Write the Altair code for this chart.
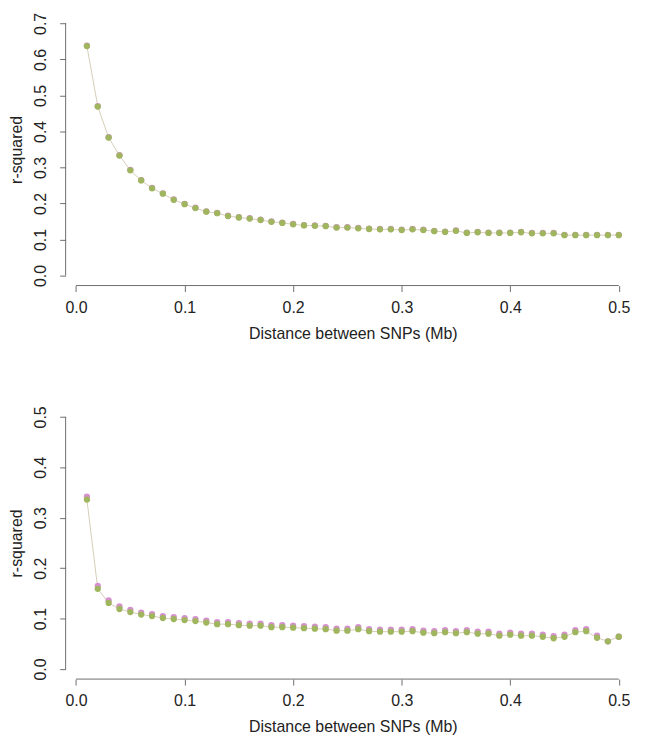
import altair as alt
import pandas as pd

# ---------------- data ----------------
x_mb = [0.01, 0.02, 0.03, 0.04, 0.05, 0.06, 0.07, 0.08, 0.09, 0.10,
        0.11, 0.12, 0.13, 0.14, 0.15, 0.16, 0.17, 0.18, 0.19, 0.20,
        0.21, 0.22, 0.23, 0.24, 0.25, 0.26, 0.27, 0.28, 0.29, 0.30,
        0.31, 0.32, 0.33, 0.34, 0.35, 0.36, 0.37, 0.38, 0.39, 0.40,
        0.41, 0.42, 0.43, 0.44, 0.45, 0.46, 0.47, 0.48, 0.49, 0.50]

top_green = [0.637, 0.469, 0.383, 0.333, 0.292, 0.264, 0.242, 0.227, 0.210, 0.198,
             0.187, 0.177, 0.173, 0.165, 0.161, 0.158, 0.154, 0.149, 0.146, 0.142,
             0.139, 0.138, 0.137, 0.133, 0.133, 0.131, 0.129, 0.128, 0.128, 0.126,
             0.128, 0.126, 0.123, 0.121, 0.124, 0.118, 0.120, 0.118, 0.118, 0.118,
             0.120, 0.117, 0.117, 0.117, 0.112, 0.112, 0.112, 0.112, 0.112, 0.112]
top_pink = [0.638, 0.470, 0.384, 0.334, 0.293, 0.265, 0.243, 0.228, 0.211, 0.199,
            0.188, 0.178, 0.174, 0.166, 0.162, 0.159, 0.155, 0.150, 0.147, 0.143,
            0.140, 0.139, 0.138, 0.134, 0.134, 0.132, 0.130, 0.129, 0.129, 0.127,
            0.129, 0.127, 0.124, 0.122, 0.125, 0.119, 0.121, 0.119, 0.119, 0.119,
            0.121, 0.118, 0.118, 0.118, 0.113, 0.113, 0.113, 0.113, 0.113, 0.113]

bot_green = [0.336, 0.159, 0.131, 0.119, 0.113, 0.108, 0.105, 0.101, 0.099, 0.097,
             0.095, 0.092, 0.089, 0.089, 0.087, 0.086, 0.086, 0.083, 0.083, 0.082,
             0.081, 0.080, 0.079, 0.076, 0.076, 0.079, 0.075, 0.074, 0.074, 0.074,
             0.075, 0.072, 0.071, 0.073, 0.071, 0.073, 0.070, 0.070, 0.066, 0.068,
             0.066, 0.066, 0.064, 0.061, 0.064, 0.073, 0.075, 0.062, 0.055, 0.064]
bot_pink = [0.342, 0.165, 0.136, 0.124, 0.117, 0.112, 0.109, 0.105, 0.103, 0.101,
            0.099, 0.096, 0.093, 0.093, 0.091, 0.090, 0.090, 0.087, 0.087, 0.086,
            0.085, 0.084, 0.083, 0.080, 0.080, 0.083, 0.079, 0.078, 0.078, 0.078,
            0.079, 0.076, 0.075, 0.077, 0.075, 0.077, 0.074, 0.074, 0.070, 0.072,
            0.070, 0.070, 0.068, 0.065, 0.068, 0.077, 0.079, 0.066, 0.055, 0.064]

x_ticks = [0.0, 0.1, 0.2, 0.3, 0.4, 0.5]
top_y_ticks = [0.0, 0.1, 0.2, 0.3, 0.4, 0.5, 0.6, 0.7]
bot_y_ticks = [0.0, 0.1, 0.2, 0.3, 0.4, 0.5]

x_title = "Distance between SNPs (Mb)"
y_title = "r-squared"

# ---------------- style ----------------
PINK = "#d690cf"
GREEN = "#9fb65e"
LINE = "#c4b999"
AX = "#6e6e6e"
TXT = "#222222"
FONT = "Liberation Sans"
W, H = 578, 274


def r_domain(lo, hi):
    pad = (hi - lo) * 0.04
    return [lo - pad, hi + pad]


def panel(green, pink, y_ticks):
    xs = alt.Scale(domain=r_domain(x_mb[0], x_mb[-1]), nice=False, zero=False)
    ys = alt.Scale(domain=r_domain(y_ticks[0], y_ticks[-1]), nice=False, zero=False)
    X = alt.X("x:Q", scale=xs, title=x_title,
              axis=alt.Axis(values=x_ticks, format=".1f", labelPadding=8,
                            titlePadding=10, grid=False, domain=False))
    Y = alt.Y("y:Q", scale=ys, title=y_title,
              axis=alt.Axis(values=y_ticks, format=".1f", labelAngle=-90,
                            labelAlign="center", labelBaseline="bottom",
                            labelPadding=11, titlePadding=8, grid=False, domain=False))

    pts_df = pd.DataFrame({
        "x": x_mb + x_mb,
        "y": pink + green,
        "series": ["pink"] * len(x_mb) + ["green"] * len(x_mb),
    })
    line_df = pd.DataFrame({"x": x_mb, "y": green})
    xrule_df = pd.DataFrame({"x": [x_ticks[0]], "x_end": [x_ticks[-1]]})
    yrule_df = pd.DataFrame({"y": [y_ticks[0]], "y_end": [y_ticks[-1]]})

    line = alt.Chart(line_df).mark_line(color=LINE, strokeWidth=0.7).encode(x=X, y=Y)
    pts = alt.Chart(pts_df).mark_circle(size=40, opacity=1).encode(
        x=X, y=Y,
        color=alt.Color("series:N",
                        scale=alt.Scale(domain=["pink", "green"], range=[PINK, GREEN]),
                        legend=None),
    )
    xr = alt.Chart(xrule_df).mark_rule(color=AX, strokeWidth=1).encode(
        x=X, x2="x_end:Q", y=alt.value(H))
    yr = alt.Chart(yrule_df).mark_rule(color=AX, strokeWidth=1).encode(
        y=Y, y2="y_end:Q", x=alt.value(0))
    return alt.layer(xr, yr, line, pts).properties(width=W, height=H)


top = panel(top_green, top_pink, top_y_ticks)
bottom = panel(bot_green, bot_pink, bot_y_ticks)

chart = alt.vconcat(top, bottom, spacing=122, bounds="flush").properties(
    padding={"left": 0, "top": 2, "right": 5, "bottom": 5},
    background="white",
).configure_view(stroke=None).configure_axis(
    domain=False, grid=False, tickColor=AX, tickSize=6, tickWidth=1,
    labelFont=FONT, labelFontSize=16, labelColor=TXT,
    titleFont=FONT, titleFontSize=16, titleFontWeight="normal", titleColor=TXT,
)

chart.save("out.html", embed_options={"renderer": "svg", "actions": False})
